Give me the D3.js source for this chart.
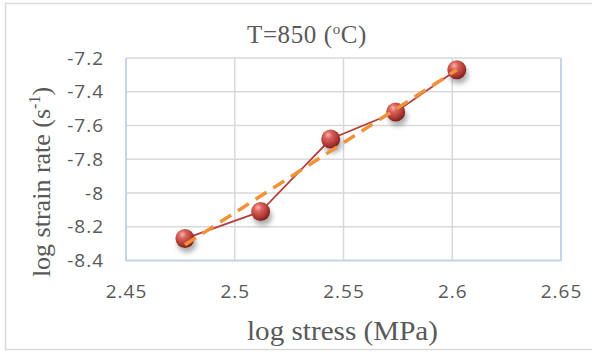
<!DOCTYPE html>
<html>
<head>
<meta charset="utf-8">
<script src="https://cdn.jsdelivr.net/npm/d3@7"></script>
<style>
  html, body { margin: 0; padding: 0; background: #fff; }
  svg { display: block; }
</style>
</head>
<body>
<svg id="chart" width="592" height="352"></svg>
<script>
// Stress exponent plot at 850 °C
const logStress = [2.4771, 2.5119, 2.5441, 2.5740, 2.6021];
const logStrainRate = [-8.27, -8.11, -7.68, -7.52, -7.27];
const xTicks = [2.45, 2.5, 2.55, 2.6, 2.65];
const yTicks = [-7.2, -7.4, -7.6, -7.8, -8, -8.2, -8.4];

const W = 592, H = 352;
const plot = { left: 126, right: 561, top: 58, bottom: 260.5 };

const svg = d3.select("#chart");
const defs = svg.append("defs");

const grad = defs.append("radialGradient")
  .attr("id", "sphere").attr("cx", "38%").attr("cy", "32%").attr("r", "70%")
  .attr("fx", "36%").attr("fy", "28%");
grad.append("stop").attr("offset", "0%").attr("stop-color", "#f6b3ad");
grad.append("stop").attr("offset", "30%").attr("stop-color", "#d9625b");
grad.append("stop").attr("offset", "70%").attr("stop-color", "#b13a35");
grad.append("stop").attr("offset", "100%").attr("stop-color", "#7a1f1c");

const shadow = defs.append("filter").attr("id", "shadow")
  .attr("x", "-50%").attr("y", "-50%").attr("width", "200%").attr("height", "200%");
shadow.append("feGaussianBlur").attr("stdDeviation", 2.5);

// chart frame
svg.append("rect").attr("x", 5.5).attr("y", 3.5).attr("width", W + 10).attr("height", 346)
  .attr("fill", "#fff").attr("stroke", "#d9d9d9").attr("stroke-width", 1.5);

const x = d3.scaleLinear().domain([2.45, 2.65]).range([plot.left, plot.right]);
const y = d3.scaleLinear().domain([-8.4, -7.2]).range([plot.bottom, plot.top]);

// gridlines
const grid = svg.append("g");
grid.selectAll(".gx").data(xTicks).join("line")
  .attr("x1", d => x(d)).attr("x2", d => x(d))
  .attr("y1", plot.top).attr("y2", plot.bottom)
  .attr("stroke", "#d9d9d9").attr("stroke-width", 1.5);
grid.selectAll(".gy").data(yTicks).join("line")
  .attr("x1", plot.left).attr("x2", plot.right)
  .attr("y1", d => y(d)).attr("y2", d => y(d))
  .attr("stroke", "#d9d9d9").attr("stroke-width", 1.5);

// plot-area border (left, bottom, right)
svg.append("path")
  .attr("d", `M${plot.left},${plot.top}V${plot.bottom}H${plot.right}V${plot.top}`)
  .attr("fill", "none").attr("stroke", "#bcd0ea").attr("stroke-width", 1.5);

// axes (labels only)
const tickFont = "'Open Sans', 'Liberation Sans', sans-serif";
const xAxis = d3.axisBottom(x).tickValues(xTicks).tickSize(0).tickPadding(0)
  .tickFormat(d => String(d));
const gx = svg.append("g").attr("transform", `translate(0,${plot.bottom + 24})`).call(xAxis);
gx.select(".domain").remove();
gx.selectAll("text").attr("fill", "#595959").style("font-family", tickFont)
  .style("font-size", "19px").style("letter-spacing", "1px").attr("dy", "0.71em");

const yAxis = d3.axisLeft(y).tickValues(yTicks).tickSize(0).tickPadding(0)
  .tickFormat(d => String(d));
const gy = svg.append("g").attr("transform", `translate(${plot.left - 22},0)`).call(yAxis);
gy.select(".domain").remove();
gy.selectAll("text").attr("fill", "#595959").style("font-family", tickFont)
  .style("font-size", "19px").style("letter-spacing", "1px");

// data line
const line = d3.line().x(d => x(d[0])).y(d => y(d[1]));
const pts = logStress.map((v, i) => [v, logStrainRate[i]]);
svg.append("path").datum(pts).attr("d", line)
  .attr("fill", "none").attr("stroke", "#b5403b").attr("stroke-width", 1.8);

// markers
const mk = svg.append("g");
mk.selectAll(".sh").data(pts).join("ellipse")
  .attr("cx", d => x(d[0]) + 2).attr("cy", d => y(d[1]) + 5)
  .attr("rx", 9.5).attr("ry", 9).attr("fill", "rgba(0,0,0,0.32)")
  .attr("filter", "url(#shadow)");
mk.selectAll(".pt").data(pts).join("circle")
  .attr("cx", d => x(d[0])).attr("cy", d => y(d[1])).attr("r", 9.5)
  .attr("fill", "url(#sphere)");

// linear trendline (least squares)
const mx = d3.mean(logStress), my = d3.mean(logStrainRate);
const sxy = d3.sum(logStress, (v, i) => (v - mx) * (logStrainRate[i] - my));
const sxx = d3.sum(logStress, v => (v - mx) ** 2);
const slope = sxy / sxx, icpt = my - slope * mx;
const xs = d3.extent(logStress);
svg.append("path").datum(xs.map(v => [v, icpt + slope * v])).attr("d", line)
  .attr("fill", "none").attr("stroke", "#f0923a").attr("stroke-width", 3.5)
  .attr("stroke-dasharray", "13,8");

// titles
const serif = "'Liberation Serif', 'Times New Roman', serif";
const t = svg.append("text").attr("x", 307).attr("y", 43).attr("text-anchor", "middle")
  .attr("fill", "#595959").style("font-family", serif).style("font-size", "25px")
  .style("letter-spacing", "0.6px");
t.append("tspan").text("T=850 (");
t.append("tspan").attr("dy", -9).style("font-size", "15px").text("o");
t.append("tspan").attr("dy", 9).text("C)");

svg.append("text").attr("x", 342.5).attr("y", 340).attr("text-anchor", "middle")
  .attr("fill", "#595959").style("font-family", serif).style("font-size", "27px")
  .attr("textLength", 191).attr("lengthAdjust", "spacingAndGlyphs")
  .text("log stress (MPa)");

const yt = svg.append("text").attr("transform", `translate(50,182) rotate(-90)`)
  .attr("text-anchor", "middle").attr("fill", "#595959")
  .style("font-family", serif).style("font-size", "26px");
yt.append("tspan").text("log strain rate (s");
yt.append("tspan").attr("dy", -10).style("font-size", "16px").text("-1");
yt.append("tspan").attr("dy", 10).text(")");
</script>
</body>
</html>
